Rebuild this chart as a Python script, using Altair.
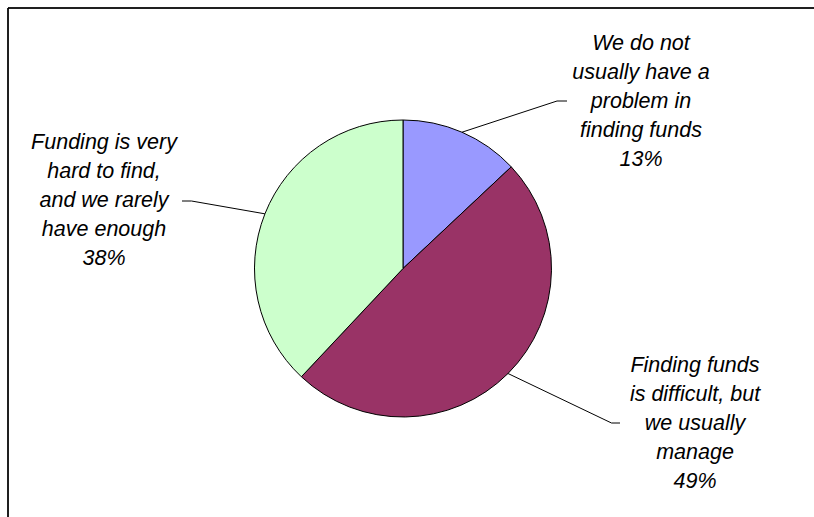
import math

import altair as alt
import pandas as pd

# ---- data -------------------------------------------------------------
categories = [
    "We do not\nusually have a\nproblem in\nfinding funds",
    "Finding funds\nis difficult, but\nwe usually\nmanage",
    "Funding is very\nhard to find,\nand we rarely\nhave enough",
]
shares = [13, 49, 38]
slice_colors = ["#9999FF", "#993366", "#CCFFCC"]

# ---- layout (page pixels) ---------------------------------------------
PAGE_W, PAGE_H = 814, 517      # drawing surface
INSET = 8                      # chart-area border offset
CX, CY, RADIUS = 403, 268.5, 148.5
# centre of the first line of each label
label_anchor = [(641, 44), (695, 366), (104, 143)]
leader_bends = [
    [(557, 101), (567, 101)],
    [(611.5, 423), (620, 423)],
    [(191.5, 201), (182, 201)],
]
FONT = "Liberation Sans"

labels = [f"{c}\n{s}%" for c, s in zip(categories, shares)]

xs = alt.Scale(domain=[INSET, PAGE_W], range=[0, PAGE_W - INSET], nice=False, zero=False)
ys = alt.Scale(domain=[INSET, PAGE_H], range=[0, PAGE_H - INSET], nice=False, zero=False)

pie_df = pd.DataFrame({"label": labels, "share": shares, "order": range(len(shares))})

# leader lines start on the rim at each slice's mid angle
total = sum(shares)
rows = []
start = 0.0
for i, s in enumerate(shares):
    mid = (start + s / 2) / total * 2 * math.pi
    start += s
    pts = [(CX + RADIUS * math.sin(mid), CY - RADIUS * math.cos(mid))] + leader_bends[i]
    for k, (px, py) in enumerate(pts):
        rows.append({"slice": i, "k": k, "px": px, "py": py})
leader_df = pd.DataFrame(rows)

text_df = pd.DataFrame({
    "label": labels,
    "tx": [p[0] for p in label_anchor],
    "ty": [p[1] for p in label_anchor],
})

pie = alt.Chart(pie_df).mark_arc(radius=RADIUS, stroke="black", strokeWidth=1).encode(
    theta=alt.Theta("share:Q", stack=True),
    color=alt.Color("label:N", scale=alt.Scale(domain=labels, range=slice_colors), legend=None),
    order=alt.Order("order:Q"),
    x=alt.XDatum(CX, type="quantitative", scale=xs, axis=None),
    y=alt.YDatum(CY, type="quantitative", scale=ys, axis=None),
)

leaders = alt.Chart(leader_df).mark_line(color="black", strokeWidth=1).encode(
    x=alt.X("px:Q", scale=xs, axis=None),
    y=alt.Y("py:Q", scale=ys, axis=None),
    detail="slice:N",
    order="k:Q",
)

texts = alt.Chart(text_df).mark_text(
    font=FONT, fontStyle="italic", fontSize=21.5, lineHeight=29,
    align="center", baseline="middle", color="black", lineBreak="\n",
).encode(
    x=alt.X("tx:Q", scale=xs, axis=None),
    y=alt.Y("ty:Q", scale=ys, axis=None),
    text="label:N",
)

# chart-area frame: only its left and top edges fall inside the page
frame_left = alt.Chart(pie_df).mark_rule(color="black", strokeWidth=1).encode(
    x=alt.value(0), y=alt.value(0), y2=alt.value(PAGE_H - INSET)
)
frame_top = alt.Chart(pie_df).mark_rule(color="black", strokeWidth=1).encode(
    y=alt.value(0), x=alt.value(0), x2=alt.value(PAGE_W - INSET)
)

chart = (
    alt.layer(frame_left, frame_top, pie, leaders, texts)
    .properties(
        width=PAGE_W - INSET,
        height=PAGE_H - INSET,
        autosize=alt.AutoSizeParams(type="none"),
        padding={"left": INSET, "top": INSET, "right": 0, "bottom": 0},
        background="white",
    )
    .configure_view(stroke="transparent", strokeWidth=0)
)

chart.save("out.html", embed_options={"renderer": "svg", "actions": False})
